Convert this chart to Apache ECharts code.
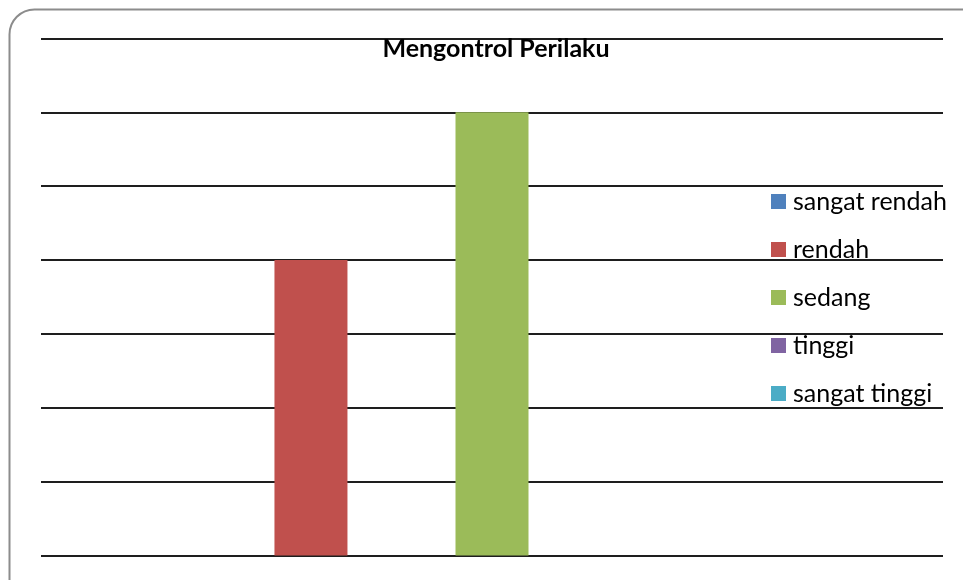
<!DOCTYPE html>
<html>
<head>
<meta charset="utf-8">
<script src="https://cdn.jsdelivr.net/npm/echarts@6/dist/echarts.min.js"></script>
<style>
  html, body { margin: 0; padding: 0; background: #fff; }
  #chart { width: 963px; height: 580px; }
</style>
</head>
<body>
<div id="chart"></div>
<script>
// data
var categories = ['Mengontrol Perilaku'];
var seriesNames = ['sangat rendah', 'rendah', 'sedang', 'tinggi', 'sangat tinggi'];
var seriesValues = [[0], [4], [6], [0], [0]];
var colors = ['#4F81BD', '#C0504D', '#9BBB59', '#8064A2', '#4BACC6'];

var myChart = echarts.init(document.getElementById('chart'));

var series = seriesNames.map(function (name, i) {
    return {
        name: name,
        type: 'bar',
        data: seriesValues[i],
        barWidth: 73,
        barGap: '148%',
        itemStyle: { color: colors[i] }
    };
});

var option = {
    animation: false,
    backgroundColor: '#fff',
    title: {
        text: 'Mengontrol Perilaku',
        left: 491,
        textAlign: 'center',
        top: 31,
        textStyle: { fontFamily: 'Lato', fontSize: 25, fontWeight: 'bold', color: '#000' }
    },
    graphic: [{
        type: 'rect',
        shape: { x: 9.5, y: 9.5, width: 990, height: 620, r: 25 },
        style: { fill: 'none', stroke: '#8c8c8c', lineWidth: 2 },
        silent: true
    }],
    legend: {
        orient: 'vertical',
        left: 766,
        top: 184,
        itemWidth: 15,
        itemHeight: 15,
        itemGap: 23,
        icon: 'rect',
        textStyle: { fontFamily: 'Lato', fontSize: 25, lineHeight: 25, color: '#000', padding: [0, 0, 0, 2] },
        data: seriesNames
    },
    grid: { left: 41, right: 20, top: 38.5, bottom: 24.5 },
    xAxis: {
        type: 'category',
        data: categories,
        axisLine: { show: false },
        axisTick: { show: false },
        axisLabel: { show: false }
    },
    yAxis: {
        type: 'value',
        min: 0,
        max: 7,
        interval: 1,
        axisLine: { show: false },
        axisTick: { show: false },
        axisLabel: { show: false },
        splitLine: { lineStyle: { color: '#1e1e1e', width: 2 } }
    },
    series: series
};

myChart.setOption(option);
</script>
</body>
</html>
